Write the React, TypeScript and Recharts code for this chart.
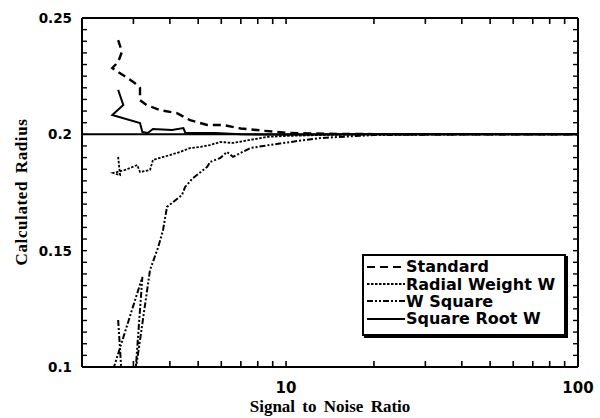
import React from 'react';
import { LineChart, Line, XAxis, YAxis, ReferenceLine } from 'recharts';

// ---------------------------------------------------------------------------
// Data
// ---------------------------------------------------------------------------

const standardSnr = [2.66, 2.74, 2.66, 2.54, 3.03, 3.16, 3.16, 3.33, 3.7, 4.23, 4.69, 5.37, 6.09, 7.0, 8.47, 10, 12, 15, 20, 30, 50, 100];
const standardRadius = [0.2405, 0.2355, 0.2311, 0.2285, 0.2221, 0.2199, 0.2147, 0.2126, 0.2104, 0.2091, 0.2061, 0.204, 0.204, 0.2025, 0.2015, 0.2007, 0.2004, 0.2002, 0.2001, 0.2, 0.2, 0.2];

const radialSnr = [2.66, 2.7, 2.56, 2.81, 3.09, 3.16, 3.42, 3.5, 4.0, 4.33, 4.69, 5.1, 5.49, 5.94, 6.58, 7.53, 8.61, 10, 13.1, 20, 40, 100];
const radialRadius = [0.1903, 0.1825, 0.1834, 0.1847, 0.1868, 0.1838, 0.1847, 0.189, 0.1911, 0.1924, 0.1941, 0.1946, 0.1954, 0.1967, 0.1963, 0.1976, 0.1989, 0.1993, 0.1997, 0.2, 0.2, 0.2];

const wSquareSnr = [2.66, 2.74, 2.5, 3.22, 3.05, 3.42, 3.65, 3.79, 3.91, 4.07, 4.4, 4.51, 4.8, 5.37, 5.49, 5.94, 6.28, 6.58, 7.53, 9.77, 13.1, 20, 40, 100];
const wSquareRadius = [0.1202, 0.095, 0.095, 0.1387, 0.098, 0.1417, 0.1516, 0.1589, 0.1688, 0.1705, 0.1739, 0.1774, 0.1812, 0.186, 0.1881, 0.1898, 0.1924, 0.1903, 0.1941, 0.1963, 0.1984, 0.1997, 0.2, 0.2];

const sqrtSnr = [2.66, 2.77, 2.54, 3.16, 3.22, 3.36, 3.5, 4.07, 4.45, 4.52, 5.71, 7.0, 10, 20, 50, 100];
const sqrtRadius = [0.2191, 0.2126, 0.2083, 0.2049, 0.201, 0.2006, 0.2023, 0.2019, 0.2027, 0.2006, 0.2006, 0.2, 0.1998, 0.2, 0.2, 0.2];

const trueRadius = 0.2;

const xTicks = [2, 3, 4, 5, 6, 7, 8, 9, 10, 20, 30, 40, 50, 60, 70, 80, 90, 100];
const xLabels = [10, 100];
const yLabels = [0.1, 0.15, 0.2, 0.25];
const yTicks = Array.from({ length: 31 }, (_, i) => +(0.1 + i * 0.005).toFixed(3));

const xDomain = [2, 100];
const yDomain = [0.1, 0.25];

const series = [
  { name: 'Standard', snr: standardSnr, radius: standardRadius, dash: '8 5', width: 2.4 },
  { name: 'Radial Weight W', snr: radialSnr, radius: radialRadius, dash: '2.5 1.5', width: 1.8 },
  { name: 'W Square', snr: wSquareSnr, radius: wSquareRadius, dash: '6 2 2 2 2 2', width: 2 },
  { name: 'Square Root W', snr: sqrtSnr, radius: sqrtRadius, dash: undefined, width: 2 },
];

// ---------------------------------------------------------------------------
// Styles
// ---------------------------------------------------------------------------

const tickFont = { fontFamily: '"DejaVu Sans", sans-serif', fontWeight: 700, fontSize: 13.5, fill: '#000' };
const xTickFont = { ...tickFont, fontSize: 15 };
const titleFont = { fontFamily: '"Liberation Serif", serif', fontWeight: 700, fontSize: 17, fill: '#000' };
const axisLine = { stroke: '#000', strokeWidth: 2 };

// inward tick mark length, in axis units (~6px vertically, ~5px horizontally)
const tickLenY = 0.0026;
const tickFactorX = 1.04;

// ---------------------------------------------------------------------------
// Tick labels
// ---------------------------------------------------------------------------

function BottomLabel({ x, y, payload }: any) {
  if (!xLabels.includes(payload.value)) return <g />;
  return (
    <text x={x} y={y + 20} textAnchor="middle" style={xTickFont}>
      {payload.value}
    </text>
  );
}

function LeftLabel({ x, y, payload }: any) {
  if (!yLabels.some((v) => Math.abs(v - payload.value) < 1e-6)) return <g />;
  return (
    <text x={x - 10} y={y + 5} textAnchor="end" style={tickFont}>
      {payload.value}
    </text>
  );
}

// ---------------------------------------------------------------------------
// Legend box
// ---------------------------------------------------------------------------

function LegendBox() {
  return (
    <div
      style={{
        position: 'absolute',
        left: 362,
        top: 254,
        width: 197,
        height: 76,
        border: '2px solid #000',
        boxShadow: '2px 2px 0 #000',
        background: '#fff',
        padding: '2px 0 0 3px',
        boxSizing: 'content-box',
      }}
    >
      {series.map((s) => (
        <div key={s.name} style={{ display: 'flex', alignItems: 'center', height: 17.4 }}>
          <svg width={38} height={10} style={{ flex: 'none' }}>
            <line x1={0} x2={38} y1={5} y2={5} stroke="#000" strokeWidth={2} strokeDasharray={s.dash} />
          </svg>
          <span
            style={{
              fontFamily: '"DejaVu Sans", sans-serif',
              fontWeight: 700,
              fontSize: 16,
              lineHeight: '17px',
              marginLeft: 1,
              whiteSpace: 'nowrap',
            }}
          >
            {s.name}
          </span>
        </div>
      ))}
    </div>
  );
}

// ---------------------------------------------------------------------------
// Component
// ---------------------------------------------------------------------------

export default function App() {
  const innerX = xTicks.filter((v) => v > xDomain[0] && v < xDomain[1]);
  const innerY = yTicks.filter((v) => v > yDomain[0] && v < yDomain[1]);

  return (
    <div style={{ position: 'relative', width: 600, height: 418, background: '#fff' }}>
      <style>{'body{margin:0}'}</style>
      <LineChart width={600} height={418} margin={{ top: 17, right: 21, bottom: 0, left: 0 }}>
        <XAxis
          xAxisId="b"
          dataKey="snr"
          type="number"
          scale="log"
          domain={xDomain}
          allowDataOverflow
          ticks={xTicks}
          interval={0}
          height={51}
          tickSize={0}
          tickMargin={6}
          tickLine={false}
          tick={<BottomLabel />}
          axisLine={axisLine}
          label={() => (
            <text x={330} y={412} textAnchor="middle" style={{ ...titleFont, wordSpacing: 3 }}>
              Signal to Noise Ratio
            </text>
          )}
        />
        <XAxis
          xAxisId="t"
          orientation="top"
          dataKey="snr"
          type="number"
          scale="log"
          domain={xDomain}
          allowDataOverflow
          height={1}
          tickLine={false}
          tick={false}
          axisLine={axisLine}
        />
        <YAxis
          yAxisId="l"
          type="number"
          domain={yDomain}
          allowDataOverflow
          ticks={yTicks}
          interval={0}
          width={82}
          tickSize={0}
          tickMargin={0}
          tickLine={false}
          tick={<LeftLabel />}
          axisLine={axisLine}
          label={() => (
            <text
              x={27}
              y={192}
              textAnchor="middle"
              transform="rotate(-90 27 192)"
              style={{ ...titleFont, wordSpacing: 3, letterSpacing: 0.6 }}
            >
              Calculated Radius
            </text>
          )}
        />
        <YAxis
          yAxisId="r"
          orientation="right"
          type="number"
          domain={yDomain}
          allowDataOverflow
          width={1}
          tickLine={false}
          tick={false}
          axisLine={axisLine}
        />

        {/* inward tick marks on all four sides of the frame */}
        {innerX.map((v) => (
          <ReferenceLine
            key={`xb${v}`}
            xAxisId="b"
            yAxisId="l"
            segment={[{ x: v, y: yDomain[0] }, { x: v, y: yDomain[0] + tickLenY }]}
            stroke="#000"
            strokeWidth={1.6}
          />
        ))}
        {innerX.map((v) => (
          <ReferenceLine
            key={`xt${v}`}
            xAxisId="b"
            yAxisId="l"
            segment={[{ x: v, y: yDomain[1] }, { x: v, y: yDomain[1] - tickLenY }]}
            stroke="#000"
            strokeWidth={1.6}
          />
        ))}
        {innerY.map((v) => (
          <ReferenceLine
            key={`yl${v}`}
            xAxisId="b"
            yAxisId="l"
            segment={[{ x: xDomain[0], y: v }, { x: xDomain[0] * tickFactorX, y: v }]}
            stroke="#000"
            strokeWidth={1.4}
          />
        ))}
        {innerY.map((v) => (
          <ReferenceLine
            key={`yr${v}`}
            xAxisId="b"
            yAxisId="l"
            segment={[{ x: xDomain[1] / tickFactorX, y: v }, { x: xDomain[1], y: v }]}
            stroke="#000"
            strokeWidth={1.4}
          />
        ))}

        <ReferenceLine xAxisId="b" yAxisId="l" y={trueRadius} stroke="#000" strokeWidth={2} />

        {series.map((s) => (
          <Line
            key={s.name}
            xAxisId="b"
            yAxisId="l"
            data={s.snr.map((snr, i) => ({ snr, radius: s.radius[i] }))}
            dataKey="radius"
            type="linear"
            stroke="#000"
            strokeWidth={s.width}
            strokeDasharray={s.dash}
            dot={false}
            activeDot={false}
            isAnimationActive={false}
          />
        ))}
      </LineChart>
      <LegendBox />
    </div>
  );
}
